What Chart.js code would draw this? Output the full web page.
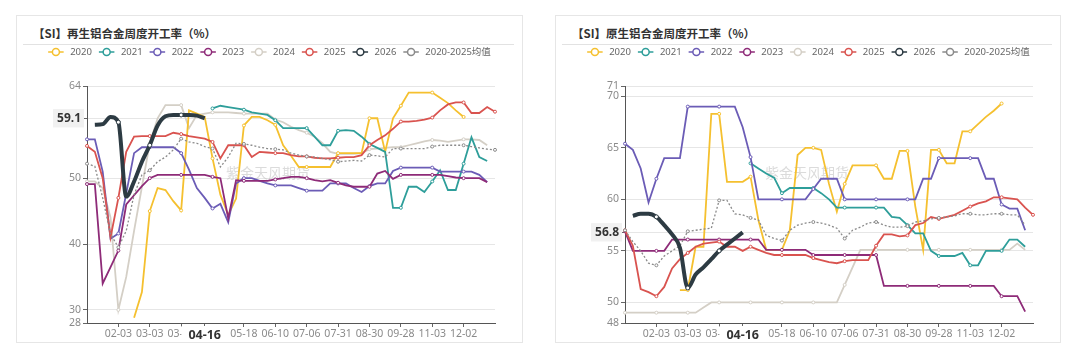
<!DOCTYPE html>
<html><head><meta charset="utf-8">
<script src="https://cdn.jsdelivr.net/npm/chart.js@4.4.1/dist/chart.umd.min.js"></script>
<style>
html,body{margin:0;padding:0;background:#fff;width:1080px;height:353px;overflow:hidden;font-family:"Noto Sans CJK SC","Noto Sans",sans-serif;}
.card{position:absolute;top:15px;height:328px;border:1px solid #e6e6e6;box-sizing:border-box;background:#fff;}
.title{position:absolute;top:25px;font-size:11.5px;line-height:16px;font-weight:bold;color:#333;white-space:nowrap;}
.sep{position:absolute;top:44px;height:0;border-top:1px solid #e2e2e2;}
.wrap{position:absolute;top:44px;}
</style></head><body>
<div class="card" style="left:16px;width:507px;"></div>
<div class="card" style="left:555px;width:506px;"></div>
<div class="title" style="left:33px;">【SI】再生铝合金周度开工率（%）</div>
<div class="title" style="left:572px;">【SI】原生铝合金周度开工率（%）</div>
<div class="sep" style="left:23px;width:491px;"></div>
<div class="sep" style="left:562px;width:490px;"></div>
<div class="wrap" style="left:16px;"><canvas id="c1" width="506" height="297"></canvas></div>
<div class="wrap" style="left:555px;"><canvas id="c2" width="505" height="297"></canvas></div>
<script>
// ---------- data ----------
const categories = ['01-06','01-13','01-20','01-27','02-03','02-10','02-17','02-24','03-03','03-10',
 '03-17','03-24','03-31','04-02','04-09','04-16','04-23','04-30','05-05','05-11',
 '05-18','05-25','05-31','06-03','06-10','06-17','06-24','06-30','07-06','07-13',
 '07-20','07-27','07-31','08-07','08-14','08-21','08-30','09-06','09-13','09-20',
 '09-28','10-12','10-19','10-26','11-03','11-10','11-17','11-24','12-02','12-09',
 '12-16','12-23','12-30'];
const xTickIndex = [4,8,12,15,20,24,28,32,36,40,44,48];
const seriesNames = ['2020','2021','2022','2023','2024','2025','2026','2020-2025均值'];

// 再生铝合金
const yTicks1 = [28,30,40,50,59.1,64];
const r2020 = [null,null,null,null,null,null,28.8,32.7,45,48.5,
 48.2,46.5,45.1,60.3,59.8,59.3,53,47.5,44.4,46.9,
 58,59.3,59.3,58.8,58.1,55,53.4,51.7,51.7,51.7,
 51.7,51.7,53.8,53.8,53.8,53.8,59.1,59.1,54,59.1,
 61,63,63,63,63,62.2,61.4,60.3,59.3,null,
 null,null,null];
const r2021 = [null,null,null,null,null,null,null,null,null,null,
 null,null,null,null,null,null,60.6,61.0,60.8,60.6,
 60.4,60.0,59.8,59.6,58.8,57.6,57.6,57.6,57.6,56.3,
 55,55,57.2,57.3,57.2,56.3,55.2,54.6,54,45.5,
 45.5,48.7,48.7,47.9,49.5,51.2,48.2,48.2,52.2,56.2,
 53.2,52.6,null];
const r2022 = [55.9,55.9,51,40.8,41.6,47.7,53.8,54.7,54.7,54.7,
 54.7,54.7,53.8,51.3,48.5,47,45.4,46.1,43.3,49.2,
 50,50,49.6,49.2,48.9,48.9,48.9,48.5,48.1,48.1,
 48.1,49.2,49.2,49.2,48.5,47.9,48.8,49.2,49.2,51.1,
 51.6,51.6,51.6,51.6,51.6,51,51,51,51,51,
 50.5,49.4,null];
const r2023 = [49.1,49.1,34,36.5,39,46,47.4,48.8,50,50.5,
 50.5,50.5,50.5,50.5,50.5,50.5,50.2,50,43.9,49.7,
 49.6,49.6,49.6,49.6,49.8,50,50.2,50.2,50,49.7,
 49.5,49.7,49.3,48.9,48.7,48.7,48.7,50.7,51.1,49.9,
 50.5,50.5,50.5,50.5,50.5,50.5,50.3,50.1,50,50,
 50,49.4,null];
const r2024 = [49.5,49.5,48.5,44,30,35,42,48.7,55.3,59.1,
 61.1,61.1,61.1,57.6,59.6,59.8,60,60,60,59.9,
 59.8,59.8,59.8,59.8,58.9,58.5,57.8,57.3,56.9,56.3,
 55.3,54,53.7,53.7,53.7,53.8,54.4,54.5,54.6,54.7,
 54.7,55,55.3,55.6,55.8,55.7,55.5,55.7,55.9,55.9,
 55.8,55,null];
const r2025 = [54.9,54,50,41,47,54,56.3,56.4,56.4,56.4,
 56.4,56.9,56.7,56.4,56.2,56,55.5,53,55,55,
 55,53.2,54,53.9,53.8,53.8,53.5,53.3,53.3,53.1,
 53,53,53.1,53.2,53.2,53.5,55,55.8,56.5,57.5,
 58.6,58.6,58.7,58.9,59.2,60.3,61.2,61.5,61.5,59.9,
 59.9,60.8,60.1];
const r2026 = [null,58.1,58.2,59.3,58.5,47.2,49.5,52.5,55,58,
 59.4,59.6,59.6,59.6,59.5,59.1,null,null,null,null,
 null,null,null,null,null,null,null,null,null,null,
 null,null,null,null,null,null,null,null,null,null,
 null,null,null,null,null,null,null,null,null,null,
 null,null,null];
const rAvg = [52.2,51.8,47,41.5,39.5,42,47.5,50.5,51.2,52.5,
 53.2,54.3,56,55.5,55.3,54.8,54.5,51.7,53.2,55.3,
 55.2,55,54.7,54.5,54.4,54.3,53.8,53.5,53.3,53.2,
 53,52.8,52.5,52.6,52.7,52.6,53.5,53.4,53.2,54.5,
 54.5,54.5,54.5,54.5,54.8,55,55,55,55,54.8,
 54.6,54.4,54.3];

// 原生铝合金
const yTicks2 = [48,50,55,56.8,60,65,70,71];
const p2020 = [null,null,null,null,null,null,null,51.2,51.2,55.4,
 55.4,68.3,68.3,61.7,61.7,61.7,62.2,58,55.1,55.1,
 55.1,57,64.3,65,65,64.8,61.5,58.8,61.5,63.3,
 63.3,63.3,63.3,62,62,64.7,64.7,59.3,55.1,64.8,
 64.8,63.5,63.5,66.6,66.6,67.3,68,68.6,69.3,null,
 null,null,null];
const p2021 = [null,null,null,null,null,null,null,null,null,null,
 null,null,null,null,null,null,63.5,63,62.5,62.1,
 60.6,61.1,61.1,61.1,61.1,60.6,60,59.2,59.2,59.2,
 59.2,59.2,59.2,59.2,58.3,58.2,57.5,56.7,56.7,55,
 54.5,54.5,54.5,54.8,53.6,53.6,55,55,55,56.1,
 56.1,55.4,null];
const p2022 = [65.4,64.8,63,59.7,62,64,64,64,69,69,
 69,69,69,69,69,67,64.1,60,60,60,
 60,60,60,60,61,62,62,62,60,60,
 60,60,60,60,60,60,60,60,62,62,
 64,64,64,64,64,64,62,62,59.5,59.1,
 59.1,57,null];
const p2023 = [56.9,55,55,55,55,55,56.1,56.1,56.1,56.1,
 56.1,56.1,56.1,56.1,56.1,56.1,56.1,56.1,55.1,55.1,
 55.1,55.1,55.1,55.1,54.6,54.6,54.6,54.6,54.6,54.6,
 54.6,54.6,54.6,51.6,51.6,51.6,51.6,51.6,51.6,51.6,
 51.6,51.6,51.6,51.6,51.6,51.6,51.6,51.6,50.6,50.6,
 50.6,49.1,null];
const p2024 = [49,49,49,49,49,49,49,49,49,49,
 49.5,50,50,50,50,50,50,50,50,50,
 50,50,50,50,50,50,50,50,51.7,53.4,
 55.1,55.1,55.1,55.1,55.1,55.1,55.1,55.1,55.1,55.1,
 55.1,55.1,55.1,55.1,55.1,55.1,55.1,55.1,55.1,55.1,
 55.7,55.1,null];
const p2025 = [57,55.5,51.3,51,50.6,51.5,53.3,54.2,54.8,55.4,
 55.7,55.8,55.9,55.4,55.4,55,55.4,55.1,54.8,54.6,
 54.6,54.6,54.6,54.6,54.3,54.1,53.9,53.8,54,54.1,
 54.1,54.1,55.5,56.6,56.6,56.4,56.5,57.5,57.7,58.3,
 58.1,58.3,58.5,58.9,59.3,59.6,59.8,60.2,60.2,60.1,
 60,59.2,58.5];
const p2026 = [null,58.4,58.6,58.6,58.3,57.5,56.6,55.3,51.4,52.7,
 53.4,54.2,55,55.6,56.2,56.8,null,null,null,null,
 null,null,null,null,null,null,null,null,null,null,
 null,null,null,null,null,null,null,null,null,null,
 null,null,null,null,null,null,null,null,null,null,
 null,null,null];
const pAvg = [57,55.9,55,53.8,53.6,54.5,55,55.5,56.9,57,
 57.1,57.2,59.9,59.9,58.6,58.5,58.2,58,56.5,56.2,
 56,57,57.5,57.7,57.8,57.7,57.5,57.2,56.2,57,
 57.3,57.7,57.8,57.5,57.3,57.3,57.4,57.8,57.9,58.1,
 58.2,58.3,58.4,58.6,58.6,58.5,58.5,58.6,58.6,58.5,
 58.5,57.5,null];

// ---------- styles ----------
const FONT = '"Noto Sans","Noto Sans CJK SC",sans-serif';
const lineColors = ['#f5c02f','#2e9e9a','#6b5cb6','#8e2b78','#d4cfc6','#d9534f','#2d3b43','#8a8a8a'];
const drawOrder = [6,5,4,3,8,2,0,1];
Chart.defaults.font.family = FONT;

const legendPlugin = {
  id:'customLegend',
  afterDraw(chart, args, opts){
    const ctx = chart.ctx;
    const ds = chart.data.datasets;
    ctx.save();
    ctx.font = '9.5px ' + FONT;
    const iconW = 15.5, gap1 = 6.5, gap2 = 7;
    const widths = ds.map(d => ctx.measureText(d.label).width);
    let total = 0;
    widths.forEach(w => total += iconW + gap1 + w);
    total += gap2 * (ds.length - 1);
    let x = opts.cx - total / 2;
    const y = opts.cy;
    ds.forEach((d, k) => {
      ctx.strokeStyle = d.borderColor; ctx.lineWidth = 1.5; ctx.setLineDash([]);
      ctx.beginPath(); ctx.moveTo(x, y); ctx.lineTo(x + iconW, y); ctx.stroke();
      ctx.beginPath(); ctx.arc(x + iconW / 2, y, 3.5, 0, Math.PI * 2);
      ctx.fillStyle = '#fff'; ctx.fill(); ctx.stroke();
      ctx.fillStyle = '#666'; ctx.textBaseline = 'middle'; ctx.textAlign = 'left';
      ctx.fillText(d.label, x + iconW + gap1, y + 0.5);
      x += iconW + gap1 + widths[k] + gap2;
    });
    ctx.restore();
  }
};
const watermarkPlugin = {
  id:'watermark',
  beforeDatasetsDraw(chart, args, opts){
    const ctx = chart.ctx;
    ctx.save();
    ctx.font = '14px "Noto Sans CJK SC",sans-serif';
    ctx.fillStyle = 'rgba(190,190,190,0.55)';
    ctx.textAlign = 'center'; ctx.textBaseline = 'middle';
    ctx.fillText('紫金天风期货', opts.x, opts.y);
    ctx.restore();
  }
};

function tickVal(c){ return (c && c.tick) ? c.tick.value : (c ? c.index : -1); }

function makeChart(id, arrays, yMin, yMax, yTicks, yAxisWidth){
  const latest = arrays[6];
  let hiX = 0;
  latest.forEach((v, i) => { if (v !== null) hiX = i; });
  const hiY = latest[hiX];
  const datasets = arrays.map((arr, k) => ({
    label: seriesNames[k],
    data: arr,
    borderColor: lineColors[k],
    backgroundColor: lineColors[k],
    borderWidth: k === 6 ? 4 : (k === 7 ? 1.3 : 1.8),
    borderDash: k === 7 ? [2, 2] : [],
    tension: k === 6 ? 0.4 : 0,
    cubicInterpolationMode: k === 6 ? 'monotone' : 'default',
    pointRadius: c => (c.dataIndex % 4 === 0 ? (k === 6 ? 2 : 1.5) : 0),
    pointBackgroundColor: '#fff',
    pointBorderColor: lineColors[k],
    pointBorderWidth: 1,
    order: drawOrder[k],
    spanGaps: false
  }));
  const isHiX = c => tickVal(c) === hiX;
  return new Chart(document.getElementById(id), {
    type: 'line',
    data: { labels: categories, datasets },
    plugins: [legendPlugin, watermarkPlugin],
    options: {
      responsive: false, animation: false, events: [],
      layout: { padding: { top: 42, right: 27, left: 0, bottom: 0 } },
      plugins: {
        legend: { display: false }, tooltip: { enabled: false },
        customLegend: { cx: 253.5, cy: 8 },
        watermark: { x: 252, y: 129 }
      },
      scales: {
        x: {
          type: 'category', offset: false,
          ticks: {
            autoSkip: false, maxRotation: 0, minRotation: 0, padding: 1,
            callback: (v) => xTickIndex.includes(v) ? categories[v] : null,
            color: c => isHiX(c) ? '#333' : '#8a8a8a',
            font: c => isHiX(c) ? { family: FONT, size: 12.5, weight: 'bold' } : { family: FONT, size: 10.5 },
            showLabelBackdrop: c => isHiX(c),
            backdropColor: '#ffffff',
            backdropPadding: { left: 7, right: 7, top: 2, bottom: 2 }
          },
          grid: {
            display: true, drawOnChartArea: false, drawTicks: true, tickLength: 4,
            tickColor: c => xTickIndex.includes(tickVal(c)) ? '#666' : 'rgba(0,0,0,0)'
          },
          border: { display: true, color: '#555', width: 1 },
          afterFit: s => { s.height = 18; }
        },
        y: {
          type: 'linear', min: yMin, max: yMax,
          afterBuildTicks: s => { s.ticks = yTicks.map(v => ({ value: v })); },
          ticks: {
            padding: 2,
            callback: v => String(v),
            color: c => tickVal(c) === hiY ? '#333' : '#8a8a8a',
            font: c => tickVal(c) === hiY ? { family: FONT, size: 12, weight: 'bold' } : { family: FONT, size: 10.5 },
            showLabelBackdrop: c => tickVal(c) === hiY,
            backdropColor: '#f1f1f1',
            backdropPadding: { left: 4, right: 3, top: 2, bottom: 2 }
          },
          grid: { color: '#e6e6e6', lineWidth: 1, drawTicks: true, tickLength: 4, tickColor: '#666' },
          border: { display: true, color: '#555', width: 1 },
          afterFit: s => { s.width = yAxisWidth; }
        }
      }
    }
  });
}

makeChart('c1', [r2020, r2021, r2022, r2023, r2024, r2025, r2026, rAvg], 28, 64, yTicks1, 71);
makeChart('c2', [p2020, p2021, p2022, p2023, p2024, p2025, p2026, pAvg], 48, 71, yTicks2, 70);
</script>
</body></html>
